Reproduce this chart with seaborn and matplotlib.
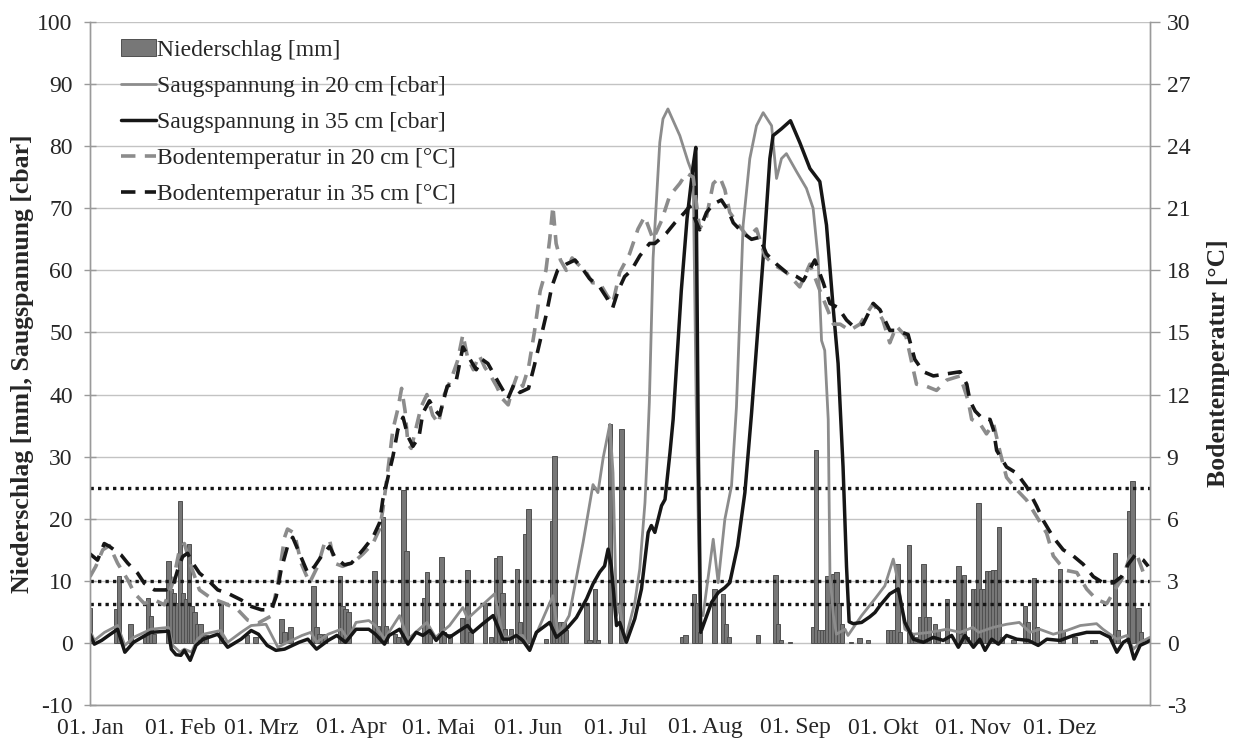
import matplotlib
matplotlib.use("Agg")
import matplotlib.pyplot as plt
import seaborn as sns
import pandas as pd
from matplotlib.patches import Patch
from matplotlib.lines import Line2D

# ---------------- data (day of year, 0 = 01. Jan) ----------------
month_days = [0, 31, 59, 90, 120, 151, 181, 212, 243, 273, 304, 334]
month_labels = ["01. Jan", "01. Feb", "01. Mrz", "01. Apr", "01. Mai", "01. Jun",
                "01. Jul", "01. Aug", "01. Sep", "01. Okt", "01. Nov", "01. Dez"]

precip_day = [0, 9, 10, 14, 19, 20, 21, 22, 27, 28, 29, 30, 31, 32, 33, 34, 35, 36, 37, 38, 39, 40,
              45, 54, 57, 66, 67, 69, 77, 78, 79, 80, 81, 86, 87, 88, 89, 98, 99, 101, 102, 105, 106,
              108, 109, 115, 116, 117, 121, 122, 124, 128, 130, 131, 136, 138, 140, 141, 142, 143,
              145, 147, 148, 150, 151, 157, 159, 160, 161, 162, 163, 164, 171, 172, 174, 175, 179,
              183, 204, 205, 208, 209, 210, 215, 218, 219, 220, 230, 236, 237, 238, 241, 249, 250,
              251, 252, 253, 254, 255, 256, 257, 258, 259, 262, 265, 268, 275, 276, 277, 278, 279,
              282, 283, 284, 286, 287, 288, 289, 291, 292, 295, 299, 300, 301, 302, 304, 305, 306,
              307, 308, 309, 310, 311, 312, 313, 314, 318, 322, 323, 325, 326, 334, 335, 339, 345,
              346, 353, 354, 358, 359, 361, 362]
precip_mm = [5.7, 5.5, 10.8, 3.1, 1.0, 7.3, 4.4, 1.5, 13.2, 8.7, 8.0, 6.5, 22.9, 8.0, 7.0, 15.9, 6.0,
             5.0, 3.0, 3.0, 1.0, 1.2, 6.5, 1.2, 0.9, 3.9, 1.8, 2.5, 9.1, 2.5, 1.5, 1.0, 1.5, 10.7,
             6.0, 5.5, 5.0, 11.6, 2.8, 20.2, 2.8, 1.5, 1.0, 24.7, 14.8, 7.3, 11.4, 1.5, 13.8, 1.7,
             1.5, 4.0, 11.7, 1.7, 6.5, 0.9, 13.6, 14.0, 8.0, 2.2, 2.2, 11.9, 3.3, 17.5, 21.5, 0.6,
             19.7, 30.1, 1.7, 3.3, 3.3, 2.0, 6.5, 0.5, 8.7, 0.5, 35.2, 34.5, 0.9, 1.3, 7.9, 6.5,
             1.7, 8.7, 7.9, 3.1, 0.9, 1.3, 10.9, 3.1, 0.4, 0.2, 2.5, 31.1, 2.1, 2.1, 2.1, 10.8,
             6.5, 11.1, 11.4, 6.5, 3.0, 0.2, 0.75, 0.4, 2.0, 2.0, 2.0, 12.7, 1.7, 15.7, 1.4, 1.0,
             4.1, 12.7, 4.1, 4.1, 3.1, 2.0, 7.1, 12.4, 1.5, 10.9, 1.0, 8.7, 8.7, 22.6, 8.7, 8.7,
             11.6, 11.6, 11.8, 11.8, 18.7, 1.0, 0.5, 6.0, 3.3, 10.5, 2.5, 11.9, 2.0, 1.0, 0.4, 0.4,
             14.5, 2.0, 21.3, 26.1, 5.7, 1.7]

s20_day = [0, 1.5, 5, 9.5, 12, 15, 21, 27, 28.5, 31, 32.5, 35, 37, 39, 45, 47.4, 52, 55.5, 60.6,
           64.7, 68, 73, 76, 78, 82, 86.5, 88.8, 91.6, 96, 98.3, 101.4, 106.6, 109.5, 116, 119,
           123.8, 128.4, 130, 139.3, 142.2, 149, 151.4, 159.4, 161.2, 165, 169.8, 173.2, 174.9,
           176.7, 179, 180.1, 181.3, 182.4, 184.1, 187.6, 189.3, 191.1, 191.9, 192.6, 193.9,
           196.2, 197.3, 199, 203.1, 206, 207.7, 208.7, 210, 211.1, 214.6, 216.3, 218.6, 220.9,
           222.6, 224.9, 227.2, 229.5, 231.8, 234.7, 236.4, 238.1, 239.8, 243.3, 246.7, 249,
           250.7, 251.9, 253, 254.2, 254.8, 256, 257, 260, 261, 265.7, 270.3, 273.7, 276.6, 278.3,
           280.6, 283.5, 289.2, 295, 299.6, 304, 306, 311, 315.6, 320, 323.7, 327, 331.7, 336.3,
           341, 346.6, 348.8, 353.6, 357, 359.3, 361.6, 365]
s20_val = [2.0, 0.4, 1.7, 2.8, -0.4, 0.9, 2.2, 2.5, -0.4, -1.5, -1.0, -1.5, 0.6, 1.4, 2.0, 0.1,
           1.7, 2.8, 3.0, -0.7, 0.1, 1.2, 1.7, 0.1, 1.4, 2.2, 0.6, 3.3, 3.6, 2.8, 0.6, 4.4, 0.6,
           3.3, 0.9, 2.8, 5.7, 3.9, 7.9, 0.9, 1.2, -1.0, 7.6, 1.2, 4.4, 16.2, 25.5, 24.2, 29.8,
           35.2, 27.4, 4.4, 6.0, 0.1, 6.5, 11.9, 22.6, 30.6, 38.7, 62.0, 80.6, 84.4, 86.0, 81.7,
           77.4, 75.3, 40.0, 5.0, 4.4, 16.7, 9.7, 19.9, 25.3, 38.0, 67.3, 78.0, 83.3, 85.4, 83.3,
           74.8, 78.0, 78.8, 75.9, 73.2, 70.0, 62.0, 48.7, 47.1, 36.0, 10.8, 4.4, 1.4, 2.2, 1.2,
           4.4, 7.1, 9.2, 13.5, 9.7, 2.2, 1.4, 1.7, 2.2, 1.7, 2.5, 1.7, 2.5, 3.0, 3.3, 1.7, 2.2,
           1.4, 2.0, 2.8, 3.1, 2.2, 0.6, 1.2, -1.0, 0.1, 0.9]

s35_day = [0, 1.5, 4, 7, 9.5, 12, 15, 19, 21, 27, 28, 29.6, 31.3, 32.5, 34.5, 36.5, 39, 44, 47.4,
           52, 55.5, 58, 61, 64, 67, 72, 75, 78, 82, 85, 88, 91.6, 96, 98.3, 101.4, 103, 106.6,
           109.5, 112.3, 114.6, 117, 119.2, 121.5, 123.8, 127.3, 130, 131.8, 135.3, 138.8, 140,
           142.2, 144.5, 146.8, 149, 151.4, 153.7, 158.3, 160.6, 164, 167.5, 171, 173.2, 175.5,
           177.2, 178.4, 179.5, 181.3, 182.4, 184.7, 187.6, 189.9, 192.2, 193.3, 194.5, 196.8,
           198, 199.7, 200.8, 203.6, 205.6, 207.7, 208.6, 209.5, 210.3, 214, 216.3, 218.6, 220.3,
           223, 225.5, 227.8, 231.8, 234.1, 235.2, 238.1, 241.2, 244.4, 247.9, 251.3, 253.6,
           255.9, 257.6, 259.3, 260.5, 261.4, 262.8, 265.7, 268.5, 270.3, 272, 275.4, 278.3,
           280.6, 283.5, 287, 290.4, 293.8, 296.7, 299, 301.3, 304.2, 306.4, 308.2, 310.5, 312.8,
           315.6, 319.1, 323.1, 326.5, 329.5, 334, 338.6, 343.2, 347.8, 351.2, 353.6, 355.8,
           357.6, 359.5, 361.6, 363.9, 365]
s35_val = [1.4, -0.2, 0.4, 1.4, 2.2, -1.5, 0.1, 1.2, 1.7, 1.9, -1.0, -1.9, -2.0, -1.2, -2.8, -0.4,
           0.6, 1.4, -0.7, 0.6, 2.0, 1.4, -0.4, -1.2, -1.0, 0.1, 0.6, -1.0, 0.4, 1.2, 0.1, 2.2,
           2.2, 1.4, -0.2, 1.2, 2.2, -0.2, 1.7, 1.2, 2.0, 0.4, 1.7, 0.9, 2.0, 2.8, 1.7, 3.1, 4.4,
           3.1, 0.6, 0.6, 1.2, 0.4, -1.2, 1.7, 3.3, 0.9, 2.2, 4.1, 7.1, 9.5, 11.4, 12.4, 15.1,
           12.4, 2.8, 3.3, 0.1, 3.9, 8.7, 17.8, 18.9, 17.8, 22.1, 23.1, 30.6, 36.0, 56.7, 68.4,
           76.9, 79.8, 30.0, 1.7, 6.5, 8.1, 8.9, 9.7, 15.6, 24.2, 37.0, 62.0, 78.0, 81.7, 82.8,
           84.1, 80.6, 76.4, 74.3, 67.3, 54.0, 45.0, 28.4, 12.3, 3.4, 3.1, 3.3, 4.2, 4.9, 6.0, 7.9,
           8.7, 3.3, 0.6, 0.1, 0.9, 0.4, 1.2, -0.7, 1.2, -0.7, 0.6, -1.2, 0.6, -0.2, 1.2, 0.6, 0.4,
           -0.4, 0.6, 0.4, 1.2, 1.7, 1.7, 0.9, -1.5, 0.1, 0.6, -2.6, -0.4, 0.1, 0.4]

t20_day = [0, 2, 4.4, 6.7, 9.5, 13, 15.3, 18.7, 22.2, 25.6, 28.5, 30.8, 32.5, 34.8, 37.7, 41.7,
           46.3, 50.9, 54.3, 57.8, 62.4, 64.7, 67, 68, 70.4, 72.7, 75.6, 78.4, 80.7, 82.5, 84.2,
           87, 91, 94, 97.4, 99.7, 100.8, 102, 104.3, 106, 107.3, 108.5, 109.5, 110.6, 112.3,
           114, 116, 118, 120, 122, 124.5, 126.5, 128.4, 130, 132, 134, 136, 138, 140, 142, 144,
           145.5, 147, 149, 151, 153, 155, 157, 158.3, 159.4, 160.5, 162, 164, 166, 168, 170.5,
           173, 175.5, 178, 180, 182.4, 185.8, 188.7, 191, 193.9, 196.8, 199.6, 203.1, 205.4,
           207.7, 209.9, 212.3, 214.6, 216.9, 218.6, 220.3, 223.8, 226.6, 229.5, 232.4, 235.2,
           239.8, 244.4, 247.9, 251.4, 253.7, 256, 258.3, 261.6, 265.1, 269.7, 273, 275.4,
           277.7, 281, 284.6, 288, 291.5, 295, 299.6, 302.4, 303.6, 306.4, 308.7, 311.1, 313.4,
           315.6, 319.1, 322.5, 326, 329.4, 331.7, 334, 336.3, 339.8, 343.2, 346.6, 350.1,
           353.5, 355.8, 358.1, 360.4, 362.7, 364.4]
t20_val = [3.2, 3.7, 4.5, 4.7, 3.85, 3.05, 2.4, 1.9, 2.08, 1.84, 2.9, 4.5, 4.8, 3.7, 2.56, 2.16,
           1.92, 1.6, 1.1, 0.95, 1.3, 2.9, 5.1, 5.5, 5.3, 3.85, 2.9, 3.7, 4.8, 4.97, 3.85, 3.7,
           3.93, 4.3, 4.8, 5.5, 6.4, 7.7, 10.3, 11.3, 12.3, 11.2, 9.6, 9.4, 10.4, 11.4, 12.0,
           11.0, 10.6, 12.0, 12.8, 13.6, 14.9, 13.8, 13.2, 13.9, 13.3, 12.9, 12.4, 11.8, 11.5,
           12.3, 12.9, 12.4, 13.3, 15.0, 17.0, 18.0, 19.5, 21.1, 19.3, 18.5, 18.0, 18.6, 18.3,
           18.0, 17.4, 17.4, 16.8, 16.4, 17.9, 18.8, 20.0, 20.6, 19.5, 20.4, 21.6, 22.2, 22.7,
           22.5, 20.0, 20.6, 22.2, 22.5, 21.9, 20.8, 20.1, 19.6, 20.0, 18.7, 18.3, 17.9, 17.2,
           18.3, 17.0, 16.2, 15.4, 15.4, 15.1, 15.4, 16.4, 15.6, 14.5, 15.3, 14.8, 12.5, 12.4,
           12.2, 12.7, 12.9, 11.7, 10.8, 10.6, 10.1, 10.6, 9.2, 8.0, 7.4, 6.9, 6.1, 5.3, 4.2,
           3.8, 3.5, 3.4, 2.6, 2.1, 1.9, 2.7, 3.2, 4.2, 4.3, 3.4, 3.8]

t35_day = [0, 2.6, 4.9, 6.7, 10.7, 13, 16.4, 18.7, 22.2, 26.2, 28.5, 30.2, 31.9, 33.6, 35.4,
           37.7, 40.5, 44, 47.4, 52, 55.5, 59, 62.4, 64.1, 65.8, 68, 69.8, 72.1, 75, 77.3, 79.6,
           82.5, 84.2, 87.6, 90, 94, 97.4, 99.7, 100.8, 102.6, 104.3, 106, 107.8, 109.5, 111.2,
           113.3, 114.6, 116.9, 118.5, 120.4, 123, 126, 128.4, 130, 133, 135, 137, 139, 141,
           143.9, 146, 148, 151, 153, 155, 157, 159, 161, 164, 167, 170, 172, 175.5, 177.8, 180,
           181.8, 184.1, 186.4, 189.3, 192.7, 194.5, 198.5, 201.4, 204.8, 206.5, 209.9, 212.3,
           214.6, 217.4, 219.7, 221.5, 224.9, 227.8, 230.6, 232.9, 236.4, 239.8, 243.3, 245.6,
           249.6, 252.5, 254.8, 257.6, 260.5, 262.8, 266.2, 269.7, 272, 275.4, 277.7, 281.7,
           284, 287, 290.4, 295, 299.6, 301.9, 303, 304.8, 307.6, 309.9, 311.1, 312.2, 315.6,
           319.1, 322.5, 326, 328.3, 331.7, 335.1, 338.6, 342, 345.5, 348.9, 352.4, 355.2,
           357.5, 359.9, 362.7, 364.4]
t35_val = [4.3, 4.0, 4.8, 4.66, 4.25, 3.85, 3.37, 2.88, 2.56, 2.56, 2.72, 3.53, 4.17, 4.33, 3.85,
           3.37, 3.05, 2.56, 2.4, 2.08, 1.76, 1.6, 1.6, 2.24, 3.53, 4.66, 5.1, 4.33, 3.37, 3.69,
           4.17, 4.66, 4.17, 3.77, 3.85, 4.5, 5.1, 5.8, 6.9, 8.0, 9.0, 10.3, 10.9, 9.97, 9.5,
           9.97, 11.1, 11.7, 11.3, 11.0, 12.4, 12.6, 14.3, 13.9, 13.2, 13.7, 13.5, 13.0, 12.5,
           11.8, 12.5, 12.1, 12.3, 13.4, 14.6, 15.8, 17.2, 18.0, 18.3, 18.5, 18.0, 17.6, 17.2,
           16.7, 16.2, 17.0, 17.7, 18.0, 18.7, 19.3, 19.3, 19.8, 20.3, 20.8, 21.1, 19.96, 20.8,
           21.2, 21.4, 20.9, 20.3, 19.8, 19.5, 19.6, 18.8, 18.3, 17.9, 17.7, 17.5, 18.5, 17.4,
           16.4, 16.2, 15.6, 15.3, 15.4, 16.4, 16.1, 15.1, 15.1, 14.9, 13.7, 13.1, 12.9, 13.0,
           13.1, 12.5, 11.7, 11.2, 10.8, 10.8, 10.3, 9.3, 8.5, 8.2, 7.55, 6.6, 5.9, 5.1, 4.5,
           4.2, 3.8, 3.2, 2.9, 2.9, 3.2, 3.8, 4.25, 4.0, 3.7]

thresholds = [25, 10, 6.3]

# ---------------- styling ----------------
sns.set_theme(style="white")
plt.rcParams["font.family"] = ["Liberation Serif", "DejaVu Serif"]
plt.rcParams["axes.unicode_minus"] = False

C_BAR = "#777777"
C_BAR_EDGE = "#505050"
C_GRAY = "#8c8c8c"
C_BLACK = "#161616"
C_AXIS = "#9a9a9a"
FS = 17

fig = plt.figure(figsize=(12.36, 7.44), dpi=100)
ax = fig.add_axes([90 / 1236, 1 - 705 / 744, 1060 / 1236, 683 / 744])

ax.set_xlim(0, 365)
ax.set_ylim(-10, 100)
ax.set_yticks(range(-10, 101, 10))
ax.yaxis.grid(True, color="#c3c3c3", lw=1.0)
ax.set_axisbelow(True)

ax.bar(precip_day, precip_mm, width=1.5, color=C_BAR, edgecolor=C_BAR_EDGE,
       linewidth=0.7, zorder=2)

for t in thresholds:
    ax.axhline(t, color=C_BLACK, lw=2.4, ls=(0, (1, 1.25)), zorder=2.5)

sns.lineplot(x=s20_day, y=s20_val, ax=ax, color=C_GRAY, lw=2.0, estimator=None, zorder=3)
sns.lineplot(x=s35_day, y=s35_val, ax=ax, color=C_BLACK, lw=2.5, estimator=None, zorder=3.2)

ax.set_xticks(month_days)
ax.set_xticklabels(month_labels)
ax.tick_params(axis="x", direction="inout", length=12, width=1, color=C_AXIS,
               labelsize=FS, pad=3)
ax.tick_params(axis="y", direction="inout", length=9, width=1, color=C_AXIS,
               labelsize=FS, pad=8, left=True)
for side in ["left", "bottom", "right"]:
    ax.spines[side].set_color(C_AXIS)
    ax.spines[side].set_linewidth(1)
ax.spines["top"].set_visible(False)
ax.set_ylabel("Niederschlag [mm], Saugspannung [cbar]", fontsize=18.5,
              fontweight="bold", labelpad=2)

ax2 = ax.twinx()
ax2.set_ylim(-3, 30)
ax2.set_yticks(range(-3, 31, 3))
sns.lineplot(x=t20_day, y=t20_val, ax=ax2, color=C_GRAY, lw=2.6, estimator=None)
sns.lineplot(x=t35_day, y=t35_val, ax=ax2, color=C_BLACK, lw=2.6, estimator=None)
ax2.lines[0].set_dashes([4, 2.6])
ax2.lines[1].set_dashes([4, 2.6])
ax2.tick_params(axis="y", direction="out", length=7, width=1, color=C_AXIS,
                labelsize=FS, pad=5, right=True)
for side in ["left", "bottom", "right"]:
    ax2.spines[side].set_color(C_AXIS)
    ax2.spines[side].set_linewidth(1)
ax2.spines["top"].set_visible(False)
ax2.grid(False)
ax2.set_ylabel("Bodentemperatur [°C]", fontsize=18.5, fontweight="bold", labelpad=12)

handles = [
    Patch(facecolor=C_BAR, edgecolor=C_BAR_EDGE, linewidth=0.7),
    Line2D([], [], color=C_GRAY, lw=2.0),
    Line2D([], [], color=C_BLACK, lw=2.5),
    Line2D([], [], color=C_GRAY, lw=2.6, dashes=[4, 2.6]),
    Line2D([], [], color=C_BLACK, lw=2.6, dashes=[4, 2.6]),
]
labels = ["Niederschlag [mm]", "Saugspannung in 20 cm [cbar]", "Saugspannung in 35 cm [cbar]",
          "Bodentemperatur in 20 cm [°C]", "Bodentemperatur in 35 cm [°C]"]
leg = ax2.legend(handles, labels, loc="upper left", bbox_to_anchor=(0.029, 0.975),
                 frameon=False, fontsize=FS, handlelength=1.5, handletextpad=0.05,
                 labelspacing=0.62, borderaxespad=0, borderpad=0)

fig.savefig("out.png", dpi=100)
